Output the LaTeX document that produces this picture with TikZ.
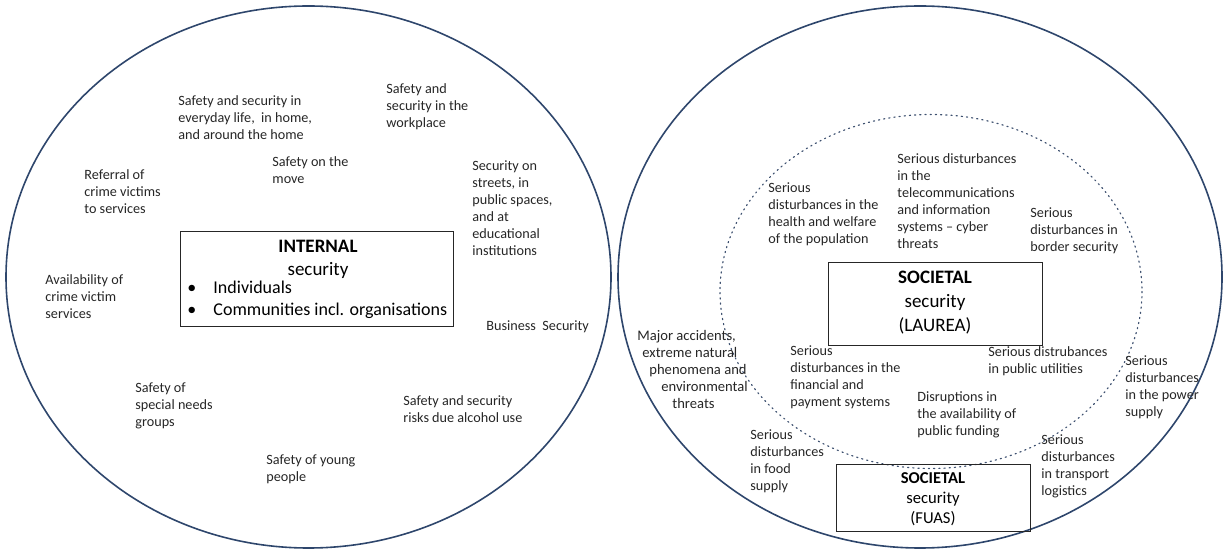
\documentclass[tikz,border=0pt]{standalone}
\usepackage{fontspec}
\setmainfont{Carlito}
\usepackage{xcolor}
\definecolor{ringblue}{RGB}{46,70,108}
\definecolor{inktext}{RGB}{38,38,38}

\begin{document}
\begin{tikzpicture}[x=0.5pt,y=-0.5pt,line cap=round,
  ring/.style={draw=ringblue,line width=0.8pt},
  innerring/.style={draw=ringblue!80!gray,line width=0.6pt,dotted},
  lbl/.style={anchor=north west,align=left,inner sep=0pt,text=inktext,font=\fontsize{7.1}{8.5}\selectfont},
  secbox/.style={draw=inktext,line width=0.5pt,inner sep=0pt},
  boxtxt/.style={inner sep=0pt,align=center,text=black}]
\useasboundingbox (0,0) rectangle (1224,549);
\draw[ring] (308.5,277) ellipse [x radius=302.5, y radius=271];
\draw[ring] (920,277) ellipse [x radius=302, y radius=271];
\draw[innerring] (931,291.5) ellipse [x radius=211, y radius=177];

\node[secbox,minimum width=136.5pt,minimum height=47.5pt] (internal) at (316.5,279.5) {};
\node[boxtxt,font=\fontsize{9.5}{11.5}\selectfont] (internalhead) at (318,259.5) {\textbf{INTERNAL}\\security};
\node[boxtxt,anchor=west,align=left,font=\fontsize{9}{11}\selectfont] (internallist) at (187,300) {\textbullet\hspace{0.95em}Individuals\\\textbullet\hspace{0.95em}Communities incl. organisations};

\node[secbox,minimum width=107pt,minimum height=41.5pt] (laurea) at (935,304.5) {};
\node[boxtxt,font=\fontsize{9.5}{12}\selectfont] (laureatxt) at (935,303) {\textbf{SOCIETAL}\\security\\(LAUREA)};
\node[secbox,minimum width=97pt,minimum height=33.5pt] (fuas) at (933,497.5) {};
\node[boxtxt,font=\fontsize{8.3}{10}\selectfont] (fuastxt) at (933,499) {\textbf{SOCIETAL}\\security\\(FUAS)};

\node[lbl] (everyday) at (178,95.5) {Safety and security in\\everyday life,\ \ in home,\\and around the home};
\node[lbl] (workplace) at (386,83.5) {Safety and\\security in the\\workplace};
\node[lbl] (move) at (272,156.5) {Safety on the\\move};
\node[lbl] (referral) at (84,169.5) {Referral of\\crime victims\\to services};
\node[lbl] (streets) at (472,160.5) {Security on\\streets, in\\public spaces,\\and at\\educational\\institutions};
\node[lbl] (victims) at (45,274.5) {Availability of\\crime victim\\services};
\node[lbl] (business) at (486,320.5) {Business\ \ Security};
\node[lbl] (specialneeds) at (135,382.5) {Safety of\\special needs\\groups};
\node[lbl] (alcohol) at (403,395.5) {Safety and security\\risks due alcohol use};
\node[lbl] (young) at (266,454.5) {Safety of young\\people};

\node[lbl] (telecom) at (897,153.5) {Serious disturbances\\in the\\telecommunications\\and information\\systems -- cyber\\threats};
\node[lbl] (health) at (768,182.5) {Serious\\disturbances in the\\health and welfare\\of the population};
\node[lbl] (border) at (1030,207.5) {Serious\\disturbances in\\border security};
\node[lbl,font=\fontsize{7.3}{8.5}\selectfont] (accidents) at (637,329.5) {Major accidents,\\\hspace{2.5pt}extreme natural\\\hspace{6pt}phenomena and\\\hspace{12pt}environmental\\\hspace{17.5pt}threats};
\node[lbl] (financial) at (790,345.5) {Serious\\disturbances in the\\financial and\\payment systems};
\node[lbl] (utilities) at (988,346.5) {Serious distrubances\\in public utilities};
\node[lbl] (power) at (1125,355.5) {Serious\\disturbances\\in the power\\supply};
\node[lbl] (funding) at (917,391.5) {Disruptions in\\the availability of\\public funding};
\node[lbl] (food) at (750,429.5) {Serious\\disturbances\\in food\\supply};
\node[lbl] (transport) at (1041,434.5) {Serious\\disturbances\\in transport\\logistics};
\end{tikzpicture}
\end{document}
